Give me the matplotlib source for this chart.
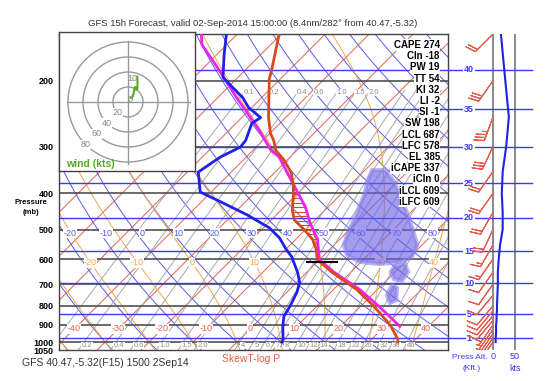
import numpy as np
import matplotlib
matplotlib.use("Agg")
import matplotlib.pyplot as plt
from matplotlib.patches import Circle, Polygon
from matplotlib.ticker import NullLocator

plt.rcParams["font.family"] = ["Liberation Sans", "DejaVu Sans"]

TITLE = "GFS 15h Forecast, valid 02-Sep-2014 15:00:00 (8.4nm/282\u00b0 from 40.47,-5.32)"
FOOTER = "GFS 40.47,-5.32(F15) 1500 2Sep14"

# environment temperature (hPa, degC)
temp_p = [150, 188, 198, 251, 277, 289, 307, 326, 353, 376, 399, 443, 471, 501,
          532, 566, 602, 652, 723, 802, 885, 907, 982, 1000]
temp_t = [-60.5, -53.9, -52.5, -43.9, -39.8, -37.5, -34.8, -30.7, -26.1, -23.4,
          -21.1, -17.5, -14.8, -10.2, -6.1, -3.0, -0.5, 5.9, 15.2, 23.0, 29.8,
          31.4, 35.9, 36.6]

# dewpoint
dew_p = [150, 170, 196, 204, 222, 236, 251, 260, 289, 301, 320, 351, 397, 424,
         457, 495, 526, 566, 591, 652, 693, 736, 802, 853, 907, 941, 982, 1000]
dew_t = [-72.5, -68.4, -63.4, -60.5, -54.3, -50.7, -45.7, -46.4, -43.9, -43.6,
         -45.9, -47.5, -42.5, -35.0, -26.6, -18.6, -14.1, -9.8, -7.0, -2.0, 0.7,
         2.3, 3.9, 4.8, 6.8, 8.2, 9.8, 10.2]

# lifted parcel
parcel_p = [150, 160, 180, 200, 222, 245, 272, 307, 320, 353, 392, 435, 480, 532,
            602, 652, 723, 802, 869, 907]
parcel_t = [-78.2, -75.7, -68.4, -62.0, -55.7, -49.5, -43.0, -35.9, -32.5, -27.0,
            -21.1, -15.2, -10.5, -5.0, 0.0, 6.4, 15.9, 24.1, 30.2, 33.4]

# winds
wind_p = [150, 200, 250, 300, 350, 400, 450, 500, 550, 600, 650, 700, 750, 800,
          825, 850, 875, 900, 925, 950, 975, 1000]
wind_spd = [18, 28, 36, 30, 22, 20, 22, 22, 16, 13, 11, 11, 10, 9, 9, 8, 8, 7,
            7, 7, 6, 6]
wind_dir = [225, 215, 200, 205, 215, 215, 210, 205, 210, 215, 215, 215, 220, 220,
            220, 220, 220, 215, 215, 215, 215, 215]

# cloud blob outline (skewed temperature, hPa)
cloud_x = [30.7, 33.7, 35.5, 37.1, 38.7, 40.0, 41.0, 39.8, 37.1, 32.5, 28.0, 25.0,
           24.3, 25.5, 27.3, 28.9, 29.8]
cloud_p = [347, 347, 369, 404, 452, 501, 550, 592, 611, 618, 611, 585, 550, 501,
           452, 404, 369]
cloud2_x = [35.9, 38.2, 38.9, 37.5, 35.7, 35.0]
cloud2_p = [626, 618, 649, 686, 678, 649]
cloud3_x = [35.3, 36.4, 36.2, 34.8, 34.1]
cloud3_p = [704, 717, 772, 786, 748]

stat_names = ["CAPE", "CIn", "PW", "TT", "KI", "LI", "SI", "SW", "LCL", "LFC",
              "EL", "iCAPE", "iCIn", "iLCL", "iLFC"]
stat_vals = [274, -18, 19, 54, 32, -2, -1, 198, 687, 578, 385, 337, 0, 609, 609]

pressure_ticks = [200, 300, 400, 500, 600, 700, 800, 900, 1000, 1050]
alt_kft = [1, 5, 10, 15, 20, 25, 30, 35, 40]

isotherm_labels = [-40, -30, -20, -10, 0, 10, 20, 30, 40]
theta_labels = [-20, -10, 0, 10, 20, 30, 40, 50, 60, 70, 80]
thetaw_lines = [-40, -30, -20, -10, 0, 10, 20, 30, 40, 50]
thetaw_labels = [-20, -10, 0, 10, 30, 40]
mix_w = [0.1, 0.2, 0.4, 0.6, 1.0, 1.5, 2.0, 4, 5, 6, 7, 8, 10, 12, 14, 18, 22,
         26, 32, 38, 46]
mix_top_labels = [0.1, 0.2, 0.4, 0.6, 1.0, 1.5, 2.0]
hodo_rings = [20, 40, 60, 80]

# layout (pixels)
FW, FH = 548, 381
L, R, T, B = 59, 448, 34, 350
P_TOP, P_BOT = 150, 1050
X_MIN, X_MAX = -40.5, 48.0
SKEW = ((B - T) / np.log(P_BOT / P_TOP)) / ((R - L) / (X_MAX - X_MIN))

C_ISO = "#e8604c"
C_DRY = "#5a5af0"
C_MOIST = "#f0a848"
C_MIX = "#a8a8a8"
C_ALT = "#3a3aff"


def skew(t, p):
    return np.asarray(t, float) + SKEW * np.log(1000.0 / np.asarray(p, float))


def moist_adiabats(t0):
    rd, cp, lv, eps = 287.04, 1005.7, 2.501e6, 0.622

    def rate(tk, p):
        tc = tk - 273.15
        es = 6.112 * np.exp(17.67 * tc / (tc + 243.5))
        rs = eps * es / (p - es)
        return (rd * tk + lv * rs) / (p * (cp + lv * lv * rs * eps / (rd * tk * tk)))

    out = {}
    for direction in (-1, 1):
        tk = np.asarray(t0, float) + 273.15
        p = 1000.0
        step = 2.0 * direction
        pts = [(p, tk.copy())]
        while (direction < 0 and p > P_TOP - 2) or (direction > 0 and p < P_BOT + 2):
            k1 = rate(tk, p)
            k2 = rate(tk + step * k1, p + step)
            tk = tk + step * 0.5 * (k1 + k2)
            p += step
            pts.append((p, tk.copy()))
        out[direction] = pts
    pts = out[-1][::-1] + out[1][1:]
    ps = np.array([q[0] for q in pts])
    ts = np.array([q[1] for q in pts]) - 273.15
    return ps, ts


def dewpoint_from_w(w, p):
    e = w * p / (622.0 + w)
    a = np.log(e / 6.112)
    return 243.5 * a / (17.67 - a)


def main():
    fig = plt.figure(figsize=(FW / 100, FH / 100), dpi=100)
    ax = fig.add_axes([L / FW, 1 - B / FH, (R - L) / FW, (B - T) / FH])
    ax.set_yscale("log")
    ax.set_ylim(P_BOT, P_TOP)
    ax.set_xlim(X_MIN, X_MAX)

    pgrid = np.geomspace(P_BOT, P_TOP, 200)

    # isotherms
    for t in range(-130, 60, 10):
        ax.plot(skew(np.full_like(pgrid, t), pgrid), pgrid, color=C_ISO, lw=0.7, zorder=1)
    # dry adiabats
    for th in range(-40, 230, 10):
        tt = (th + 273.15) * (pgrid / 1000.0) ** 0.2857 - 273.15
        ax.plot(skew(tt, pgrid), pgrid, color=C_DRY, lw=0.7, zorder=1)
    # moist adiabats
    mp, mt = moist_adiabats(thetaw_lines)
    for i in range(len(thetaw_lines)):
        ax.plot(skew(mt[:, i], mp), mp, color=C_MOIST, lw=0.7, zorder=1)
    # mixing ratio
    pm = np.geomspace(P_BOT, 212, 100)
    for w in mix_w:
        ax.plot(skew(dewpoint_from_w(w, pm), pm), pm, color=C_MIX, lw=0.7, zorder=1)

    # isobars
    for p in pressure_ticks[:-1]:
        ax.axhline(p, color="#505050", lw=1.2, zorder=2)
    # altitude lines
    alt_p = 1013.25 * (1 - 6.8756e-6 * np.array(alt_kft) * 1000.0) ** 5.2559
    for p in alt_p:
        ax.axhline(p, color=C_ALT, lw=1.0, zorder=2)

    # labels of background lines
    lab_box = dict(facecolor="white", edgecolor="none", pad=0.3)
    for t in isotherm_labels:
        ax.text(skew(t, 922), 922, str(t), color=C_ISO, fontsize=6.5, ha="center",
                va="center", bbox=lab_box, zorder=3)
    for th in theta_labels:
        tt = (th + 273.15) * (512 / 1000.0) ** 0.2857 - 273.15
        ax.text(skew(tt, 512) + 1.3, 512, str(th), color=C_DRY, fontsize=6.5,
                ha="center", va="center", bbox=lab_box, zorder=3)
    for tw in thetaw_labels:
        i = thetaw_lines.index(tw)
        tt = np.interp(np.log(613), np.log(mp), mt[:, i])
        ax.text(skew(tt, 613), 613, str(tw), color=C_MOIST, fontsize=6.5,
                ha="center", va="center", bbox=lab_box, zorder=3)
    for w in mix_w:
        txt = f"{w:.1f}" if w < 3 else f"{w:g}"
        xb = skew(dewpoint_from_w(w, 1020), 1020) + 1.2
        if w >= 0.2 and xb < X_MAX:
            ax.text(xb, 1021, txt, color="#909090", fontsize=5.5, ha="center",
                    va="center", bbox=lab_box, zorder=3)
        if w in mix_top_labels:
            ax.text(skew(dewpoint_from_w(w, 215), 215) + 1.0, 215, txt,
                    color="#909090", fontsize=5.5, ha="center", va="center",
                    bbox=lab_box, zorder=3)

    # cloud
    for cx, cp in ((cloud_x, cloud_p), (cloud2_x, cloud2_p), (cloud3_x, cloud3_p)):
        ax.add_patch(Polygon(np.column_stack([cx, cp]), closed=True,
                             facecolor="#6c62e6", edgecolor="#8a82ee", lw=3,
                             alpha=0.62, zorder=3))

    # CAPE hatch
    lfc, el = stat_vals[stat_names.index("LFC")], stat_vals[stat_names.index("EL")]
    lev = np.exp(np.linspace(np.log(el + 5), np.log(lfc - 3), 15))
    xe = np.interp(np.log(lev), np.log(temp_p), skew(temp_t, temp_p))
    xp = np.interp(np.log(lev), np.log(parcel_p), skew(parcel_t, parcel_p))
    for p, a, b in zip(lev, xe, xp):
        if b > a:
            ax.plot([a, b], [p, p], color="#d84a1b", lw=0.8, zorder=4)

    # soundings
    ax.plot(skew(parcel_t, parcel_p), parcel_p, color="#ee22ee", lw=2, zorder=5)
    ax.plot(skew(temp_t, temp_p), temp_p, color="#d84a1b", lw=2, zorder=6)
    ax.plot(skew(dew_t, dew_p), dew_p, color="#2020ee", lw=2, zorder=6)

    # LCL marker
    lcl = stat_vals[stat_names.index("iLCL")]
    xl = np.interp(np.log(lcl), np.log(parcel_p), skew(parcel_t, parcel_p))
    ax.plot([xl - 3.4, xl + 3.4], [lcl, lcl], color="black", lw=1.5, zorder=7)

    # stats text
    for i, (n, v) in enumerate(zip(stat_names, stat_vals)):
        ax.text(0.979, 1 - (11 + 11.2 * i) / (B - T), f"{n} {v}",
                transform=ax.transAxes, ha="right", va="center", fontsize=7,
                fontweight="bold", color="black",
                bbox=dict(facecolor="white", edgecolor="none", pad=0.4), zorder=8)

    ax.set_yticks(pressure_ticks)
    ax.set_yticklabels([str(p) for p in pressure_ticks], fontsize=6.5,
                       fontweight="bold")
    ax.yaxis.set_minor_locator(NullLocator())
    ax.tick_params(axis="y", length=0, pad=4)
    ax.set_xticks([])
    for s in ax.spines.values():
        s.set_color("#444444")
        s.set_linewidth(1)

    # right panel: barbs and wind speed
    ax2 = fig.add_axes([R / FW, 1 - B / FH, (FW - R) / FW, (B - T) / FH])
    ax2.set_yscale("log")
    ax2.set_ylim(P_BOT, P_TOP)
    ax2.set_xlim((R - 493) / 0.44, (FW - 493) / 0.44)
    ax2.axis("off")
    ax2.axvline(0, color="#777777", lw=1.2)
    ax2.axvline(50, color="#777777", lw=1.2)
    for p, k in zip(alt_p, alt_kft):
        ax2.axhline(p, xmax=(532 - R) / (FW - R), color=C_ALT, lw=1.0)
        ax2.text((469 - 493) / 0.44, p, str(k), color=C_ALT, fontsize=6.5,
                 fontweight="bold", ha="center", va="center",
                 bbox=dict(facecolor="white", edgecolor="none", pad=0.5))
    spd = np.array(wind_spd, float)
    rad = np.deg2rad(wind_dir)
    u = -spd * np.sin(rad)
    v = -spd * np.cos(rad)
    ax2.barbs(np.zeros(len(wind_p)), wind_p, u, v, length=6, color="#e06050",
              linewidth=0.8, zorder=3)
    ax2.plot(spd, wind_p, color="#2020ee", lw=1.5, zorder=4)
    tr = ax2.get_xaxis_transform()
    ax2.text(0, -0.022, "0", transform=tr, color=C_ALT, fontsize=6.5, ha="center", va="center")
    ax2.text(50, -0.022, "50", transform=tr, color=C_ALT, fontsize=6.5, ha="center", va="center")
    ax2.text(50, -0.057, "kts", transform=tr, color=C_ALT, fontsize=6.5, ha="center", va="center")
    ax2.text((470 - 493) / 0.44, -0.025, "Press Alt.", transform=tr, color=C_ALT,
             fontsize=6, ha="center", va="center")
    ax2.text((472 - 493) / 0.44, -0.06, "(Kft.)", transform=tr, color=C_ALT,
             fontsize=6, ha="center", va="center")

    # hodograph inset
    hx0, hx1, hy0, hy1 = 59, 195, 32, 171
    hax = fig.add_axes([hx0 / FW, 1 - hy1 / FH, (hx1 - hx0) / FW, (hy1 - hy0) / FH])
    hax.set_xlim((hx0 - 128) / 0.75, (hx1 - 128) / 0.75)
    hax.set_ylim((102 - hy1) / 0.75, (102 - hy0) / 0.75)
    hax.set_xticks([])
    hax.set_yticks([])
    for s in hax.spines.values():
        s.set_color("#444444")
        s.set_linewidth(1)
    hax.plot([-82, 82], [0, 0], color="#999999", lw=1)
    hax.plot([0, 0], [-82, 82], color="#999999", lw=1)
    for r in hodo_rings:
        hax.add_patch(Circle((0, 0), r, fill=False, ec="#999999", lw=1))
        a = np.deg2rad(225)
        hax.text(r * np.cos(a), r * np.sin(a), str(r), color="#888888",
                 fontsize=6.5, ha="center", va="center",
                 bbox=dict(facecolor="white", edgecolor="none", pad=0.2))
    sel = [i for i, p in enumerate(wind_p) if 250 <= p <= 900]
    hu, hv = u[sel][::-1], v[sel][::-1]
    hax.plot(hu, hv, color="#55aa22", lw=1.5, zorder=3)
    hax.text(hu[0] - 1, hv[0] - 3, "0", color="#888888", fontsize=6.5,
             ha="center", va="center", zorder=4)
    hax.text(hu[-1] - 6, hv[-1] - 3, "10", color="#888888", fontsize=6.5,
             ha="center", va="center", zorder=4)
    hax.text(0.05, 0.05, "wind (kts)", transform=hax.transAxes, color="#55aa22",
             fontsize=7.5, fontweight="bold", ha="left", va="center")

    # figure texts
    fig.text(253 / FW, 1 - 23 / FH, TITLE, ha="center", va="center",
             fontsize=6.8, color="#333333")
    fig.text(22 / FW, 1 - 363 / FH, FOOTER, ha="left", va="center",
             fontsize=7.5, color="#333333")
    fig.text(222 / FW, 1 - 359 / FH, "SkewT-log P", ha="left", va="center",
             fontsize=7.5, color="#e06040")
    fig.text(31 / FW, 1 - 203 / FH, "Pressure", ha="center", va="center",
             fontsize=5.5, fontweight="bold")
    fig.text(31 / FW, 1 - 213 / FH, "(mb)", ha="center", va="center",
             fontsize=5.5, fontweight="bold")

    fig.savefig("out.png", dpi=100)
    plt.close(fig)


if __name__ == "__main__":
    main()
